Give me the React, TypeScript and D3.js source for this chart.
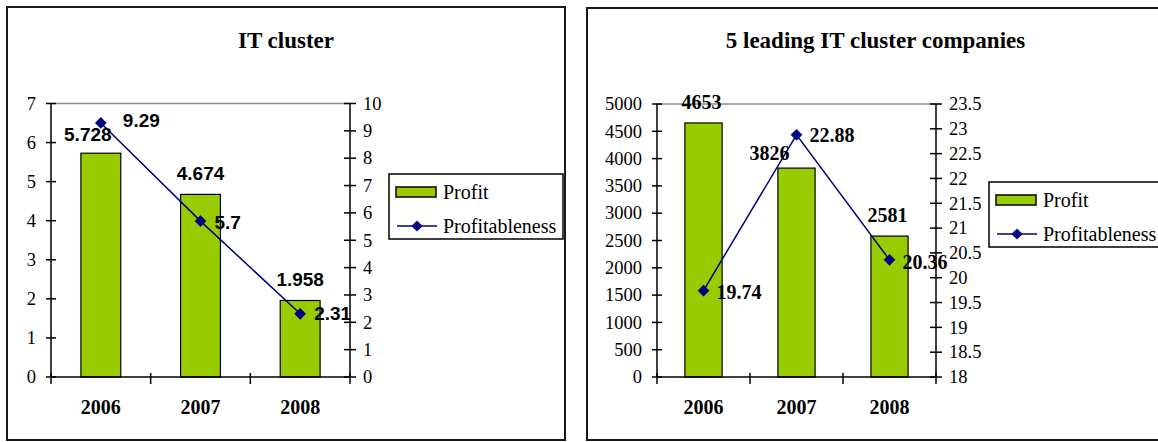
import React from 'react'
import * as d3 from 'd3'

// Chart data
const YEARS = ['2006', '2007', '2008']

const IT_PROFIT = [5.728, 4.674, 1.958]
const IT_PROFITABLENESS = [9.29, 5.7, 2.31]
const IT_LEFT_TICKS = [0, 1, 2, 3, 4, 5, 6, 7]
const IT_RIGHT_TICKS = [0, 1, 2, 3, 4, 5, 6, 7, 8, 9, 10]

const TOP5_PROFIT = [4653, 3826, 2581]
const TOP5_PROFITABLENESS = [19.74, 22.88, 20.36]
const TOP5_LEFT_TICKS = [0, 500, 1000, 1500, 2000, 2500, 3000, 3500, 4000, 4500, 5000]
const TOP5_RIGHT_TICKS = [18, 18.5, 19, 19.5, 20, 20.5, 21, 21.5, 22, 22.5, 23, 23.5]

const LEGEND_LABELS = ['Profit', 'Profitableness']

const SERIF = '"Liberation Serif", "Times New Roman", serif'
const SANS = '"Liberation Sans", Arial, sans-serif'
const BAR_FILL = '#99cc00'
const LINE_COLOR = '#000080'

// manual label nudges (as dragged in the original)
const IT_BAR_NUDGE = [[-13, 2], [0, 0], [0, 0]]
const IT_LINE_NUDGE = [[22, -3], [14, 1], [14, 0]]
const TOP5_BAR_NUDGE = [[-2, 0], [-27, 6], [-2, 0]]
const TOP5_LINE_NUDGE = [[13, 1], [13, 0], [13, 2]]

type PanelProps = {
  box: { x: number; y: number; w: number; h: number }
  title: string
  plot: { left: number; right: number; top: number; bottom: number }
  leftDomain: [number, number]
  rightDomain: [number, number]
  leftTicks: number[]
  rightTicks: number[]
  profit: number[]
  rate: number[]
  labelFont: string
  labelSize: number
  barNudge: number[][]
  lineNudge: number[][]
  legend: { x: number; y: number; w: number; h: number }
}

function Panel(p: PanelProps) {
  const { plot } = p
  const x = d3.scaleBand<string>()
    .domain(YEARS)
    .range([plot.left, plot.right])
    .paddingInner(0.6)
    .paddingOuter(0.3)
  const step = x.step()
  const bw = x.bandwidth()
  const yL = d3.scaleLinear().domain(p.leftDomain).range([plot.bottom, plot.top])
  const yR = d3.scaleLinear().domain(p.rightDomain).range([plot.bottom, plot.top])

  const cx = (d: string) => (x(d) ?? 0) + bw / 2
  const line = d3.line<number>()
    .x((_, i) => cx(YEARS[i]))
    .y(d => yR(d))
  const diamond = d3.symbol(d3.symbolDiamond2, 80)()

  const tickFs = 18.5
  const lg = p.legend

  return (
    <g>
      <rect x={p.box.x} y={p.box.y} width={p.box.w} height={p.box.h}
        fill="#fff" stroke="#1a1a1a" strokeWidth={2} />
      <text x={p.box.x + p.box.w / 2} y={48} textAnchor="middle"
        fontFamily={SERIF} fontWeight="bold" fontSize={23}>{p.title}</text>

      {/* plot area top border */}
      <line x1={plot.left} x2={plot.right} y1={plot.top} y2={plot.top}
        stroke="#8c8c8c" strokeWidth={1.5} />

      {/* bars */}
      {p.profit.map((v, i) => (
        <rect key={YEARS[i]} x={x(YEARS[i])} y={yL(v)} width={bw}
          height={plot.bottom - yL(v)} fill={BAR_FILL} stroke="#000" strokeWidth={1.2} />
      ))}

      {/* left axis */}
      <line x1={plot.left} x2={plot.left} y1={plot.top} y2={plot.bottom} stroke="#000" strokeWidth={1.5} />
      {p.leftTicks.map(t => (
        <g key={'l' + t}>
          <line x1={plot.left - 5} x2={plot.left + 5} y1={yL(t)} y2={yL(t)} stroke="#000" strokeWidth={1.5} />
          <text x={plot.left - 15} y={yL(t)} dy="0.34em" textAnchor="end"
            fontFamily={SERIF} fontSize={tickFs}>{t}</text>
        </g>
      ))}

      {/* right axis */}
      <line x1={plot.right} x2={plot.right} y1={plot.top} y2={plot.bottom} stroke="#000" strokeWidth={1.5} />
      {p.rightTicks.map(t => (
        <g key={'r' + t}>
          <line x1={plot.right - 6} x2={plot.right + 6} y1={yR(t)} y2={yR(t)} stroke="#000" strokeWidth={1.5} />
          <text x={plot.right + 13} y={yR(t)} dy="0.34em" textAnchor="start"
            fontFamily={SERIF} fontSize={tickFs}>{t}</text>
        </g>
      ))}

      {/* category axis */}
      <line x1={plot.left} x2={plot.right} y1={plot.bottom} y2={plot.bottom} stroke="#000" strokeWidth={1.5} />
      {d3.range(YEARS.length + 1).map(i => (
        <line key={'c' + i} x1={plot.left + i * step} x2={plot.left + i * step}
          y1={plot.bottom - 4} y2={plot.bottom + 7} stroke="#000" strokeWidth={1.5} />
      ))}
      {YEARS.map(d => (
        <text key={'y' + d} x={cx(d)} y={414} textAnchor="middle"
          fontFamily={SERIF} fontWeight="bold" fontSize={20}>{d}</text>
      ))}

      {/* profitableness line */}
      <path d={line(p.rate) ?? ''} fill="none" stroke={LINE_COLOR} strokeWidth={1.5} />
      {p.rate.map((v, i) => (
        <path key={'m' + i} d={diamond ?? ''} transform={`translate(${cx(YEARS[i])},${yR(v)})`}
          fill={LINE_COLOR} stroke={LINE_COLOR} strokeWidth={0.5} />
      ))}

      {/* data labels */}
      {p.profit.map((v, i) => (
        <text key={'bl' + i} x={cx(YEARS[i]) + p.barNudge[i][0]} y={yL(v) - 21 + p.barNudge[i][1]}
          dy="0.35em" textAnchor="middle" fontFamily={p.labelFont} fontWeight="bold"
          fontSize={p.labelSize}>{v}</text>
      ))}
      {p.rate.map((v, i) => (
        <text key={'ll' + i} x={cx(YEARS[i]) + p.lineNudge[i][0]} y={yR(v) + p.lineNudge[i][1]}
          dy="0.35em" textAnchor="start" fontFamily={p.labelFont} fontWeight="bold"
          fontSize={p.labelSize}>{v}</text>
      ))}

      {/* legend */}
      <rect x={lg.x} y={lg.y} width={lg.w} height={lg.h} fill="#fff" stroke="#000" strokeWidth={1.5} />
      <rect x={lg.x + 7} y={lg.y + 13} width={40} height={10} fill={BAR_FILL} stroke="#000" strokeWidth={1.5} />
      <text x={lg.x + 54} y={lg.y + 18} dy="0.35em" fontFamily={SERIF} fontSize={20}>{LEGEND_LABELS[0]}</text>
      <line x1={lg.x + 8} x2={lg.x + 48} y1={lg.y + 52} y2={lg.y + 52} stroke={LINE_COLOR} strokeWidth={1.5} />
      <path d={diamond ?? ''} transform={`translate(${lg.x + 28},${lg.y + 52})`} fill={LINE_COLOR} />
      <text x={lg.x + 54} y={lg.y + 52} dy="0.35em" fontFamily={SERIF} fontSize={20}>{LEGEND_LABELS[1]}</text>
    </g>
  )
}

export default function App() {
  return (
    <div style={{ position: 'absolute', left: 0, top: 0 }}>
      <svg width={1158} height={442} style={{ display: 'block', background: '#fff' }}>
        <Panel
          box={{ x: 7, y: 7, w: 558, h: 433 }}
          title="IT cluster"
          plot={{ left: 51, right: 350, top: 103.5, bottom: 377 }}
          leftDomain={[0, 7]}
          rightDomain={[0, 10]}
          leftTicks={IT_LEFT_TICKS}
          rightTicks={IT_RIGHT_TICKS}
          profit={IT_PROFIT}
          rate={IT_PROFITABLENESS}
          labelFont={SANS}
          labelSize={19}
          barNudge={IT_BAR_NUDGE}
          lineNudge={IT_LINE_NUDGE}
          legend={{ x: 389, y: 174, w: 174, h: 65 }}
        />
        <Panel
          box={{ x: 587, y: 8, w: 577, h: 432 }}
          title="5 leading IT cluster companies"
          plot={{ left: 657, right: 936, top: 104, bottom: 377 }}
          leftDomain={[0, 5000]}
          rightDomain={[18, 23.5]}
          leftTicks={TOP5_LEFT_TICKS}
          rightTicks={TOP5_RIGHT_TICKS}
          profit={TOP5_PROFIT}
          rate={TOP5_PROFITABLENESS}
          labelFont={SERIF}
          labelSize={20}
          barNudge={TOP5_BAR_NUDGE}
          lineNudge={TOP5_LINE_NUDGE}
          legend={{ x: 989, y: 182, w: 174, h: 65 }}
        />
      </svg>
    </div>
  )
}
